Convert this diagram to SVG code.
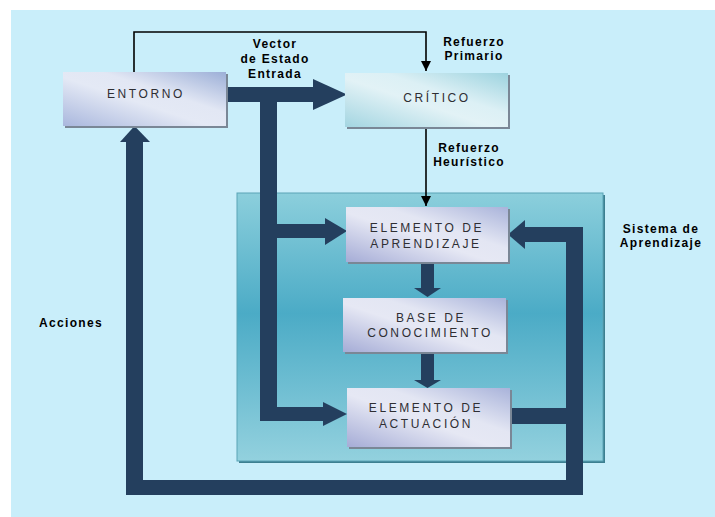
<svg xmlns="http://www.w3.org/2000/svg" width="715" height="517" viewBox="0 0 715 517">
<defs>
<linearGradient id="gBlue" x1="0" y1="1" x2="1" y2="0">
<stop offset="0" stop-color="#a9b7dd"/>
<stop offset="0.45" stop-color="#e4e9f5"/>
<stop offset="0.62" stop-color="#e2e7f4"/>
<stop offset="1" stop-color="#9cafd7"/>
</linearGradient>
<linearGradient id="gCyan" x1="0" y1="1" x2="1" y2="0">
<stop offset="0" stop-color="#a3d5e1"/>
<stop offset="0.45" stop-color="#e2f2f6"/>
<stop offset="0.62" stop-color="#dcf0f5"/>
<stop offset="1" stop-color="#9dd3df"/>
</linearGradient>
<linearGradient id="gLav" x1="0" y1="1" x2="1" y2="0">
<stop offset="0" stop-color="#a5acd6"/>
<stop offset="0.45" stop-color="#e6e8f4"/>
<stop offset="0.62" stop-color="#e3e6f3"/>
<stop offset="1" stop-color="#a9b3da"/>
</linearGradient>
<linearGradient id="gPanel" x1="0" y1="0" x2="0" y2="1">
<stop offset="0" stop-color="#8ccfdc"/>
<stop offset="0.45" stop-color="#4babc6"/>
<stop offset="1" stop-color="#93d1de"/>
</linearGradient>
<marker id="ah" viewBox="0 0 10 10" refX="10" refY="5" markerWidth="10" markerHeight="10" markerUnits="userSpaceOnUse" orient="auto">
<path d="M0,0 L10,5 L0,10 Z" fill="#000"/>
</marker>
<style>
.box{stroke:none}
.sh{fill:#7a8796}
.bt{font-family:"Liberation Sans",Arial,sans-serif;font-size:12px;letter-spacing:2.6px;fill:#2e2e33;text-anchor:middle}
.lb{font-family:"Liberation Sans",Arial,sans-serif;font-size:12px;font-weight:bold;letter-spacing:1.3px;fill:#000;text-anchor:middle}
.thick{fill:#243f5e}
.thin{fill:none;stroke:#000;stroke-width:1.6}
</style>
</defs>
<rect x="0" y="0" width="715" height="517" fill="#ffffff"/>
<rect x="11" y="10" width="704" height="507" fill="#c9eefa"/>

<g id="panel">
<rect x="239" y="195" width="366" height="268" fill="#3c7f90"/>
<rect x="237" y="193" width="366" height="268" fill="url(#gPanel)" stroke="#5aa4b6" stroke-width="1"/>
<text class="lb" x="661" y="233">Sistema de</text>
<text class="lb" x="661" y="247">Aprendizaje</text>
</g>

<g id="connectors">
<polyline class="thin" points="134,72 134,32 426,32 426,71" marker-end="url(#ah)"/>
<line class="thin" x1="426" y1="127" x2="426" y2="206" marker-end="url(#ah)"/>
<rect class="thick" x="226" y="87" width="88" height="15"/>
<polygon class="thick" points="313,79 347,94.5 313,110"/>
<rect class="thick" x="260" y="87" width="17" height="334"/>
<rect class="thick" x="276" y="224" width="50" height="14"/>
<polygon class="thick" points="325,218 347,231 325,245"/>
<rect class="thick" x="276" y="407" width="48" height="14"/>
<polygon class="thick" points="323,402 347,414 323,426"/>
<rect class="thick" x="421" y="262" width="13" height="27"/>
<polygon class="thick" points="414,288 441,288 427.5,297"/>
<rect class="thick" x="421" y="352" width="13" height="29"/>
<polygon class="thick" points="414,380 441,380 427.5,388"/>
<rect class="thick" x="509" y="408" width="74" height="16"/>
<rect class="thick" x="566" y="227" width="17" height="268"/>
<rect class="thick" x="524" y="227" width="59" height="15"/>
<polygon class="thick" points="525,220 508,234.5 525,249"/>
<rect class="thick" x="126" y="480" width="457" height="15"/>
<rect class="thick" x="126" y="141" width="17" height="354"/>
<polygon class="thick" points="120,142 134.5,126 150,142"/>
</g>

<g id="entorno">
<rect class="sh" x="65" y="74" width="163" height="54"/>
<rect class="box" x="63" y="72" width="163" height="54" fill="url(#gBlue)"/>
<text class="bt" x="146" y="98">ENTORNO</text>
</g>

<g id="critico">
<rect class="sh" x="347" y="75" width="163" height="54"/>
<rect class="box" x="345" y="73" width="163" height="54" fill="url(#gCyan)"/>
<text class="bt" x="437" y="102">CRÍTICO</text>
</g>

<g id="aprendizaje">
<rect class="sh" x="348" y="209" width="162" height="55"/>
<rect class="box" x="346" y="207" width="162" height="55" fill="url(#gLav)"/>
<text class="bt" x="427" y="232">ELEMENTO DE</text>
<text class="bt" x="426" y="248">APRENDIZAJE</text>
</g>

<g id="base">
<rect class="sh" x="345" y="300" width="163" height="54"/>
<rect class="box" x="343" y="298" width="163" height="54" fill="url(#gLav)"/>
<text class="bt" x="431" y="322">BASE DE</text>
<text class="bt" x="430" y="337">CONOCIMIENTO</text>
</g>

<g id="actuacion">
<rect class="sh" x="349" y="390" width="163" height="59"/>
<rect class="box" x="347" y="388" width="163" height="59" fill="url(#gLav)"/>
<text class="bt" x="426" y="412">ELEMENTO DE</text>
<text class="bt" x="426" y="428">ACTUACIÓN</text>
</g>

<g id="labels">
<text class="lb" x="275" y="48">Vector</text>
<text class="lb" x="275" y="63">de Estado</text>
<text class="lb" x="275" y="78">Entrada</text>
<text class="lb" x="474" y="46">Refuerzo</text>
<text class="lb" x="474" y="60">Primario</text>
<text class="lb" x="469" y="152">Refuerzo</text>
<text class="lb" x="469" y="166">Heurístico</text>
<text class="lb" x="71" y="327">Acciones</text>
</g>
</svg>
